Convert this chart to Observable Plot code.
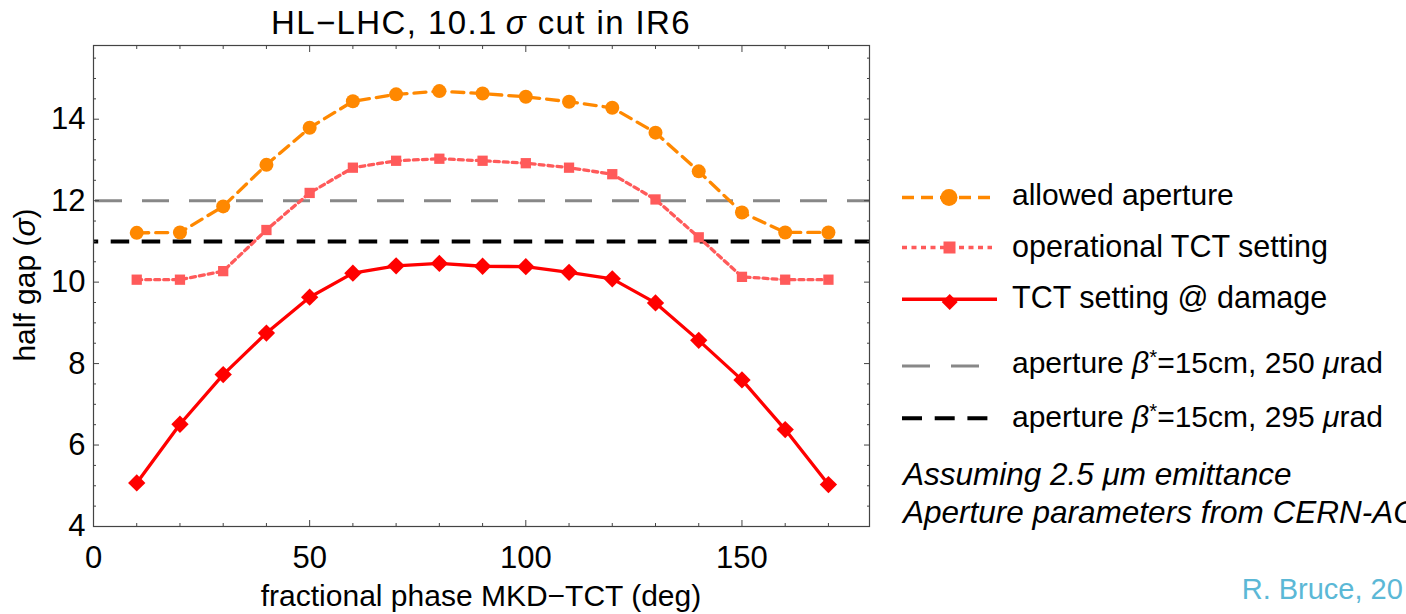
<!DOCTYPE html>
<html><head><meta charset="utf-8">
<script src="https://cdn.jsdelivr.net/npm/d3@7"></script>
<script src="https://cdn.jsdelivr.net/npm/@observablehq/plot@0.6"></script>
<style>
body{margin:0;background:#fff;overflow:hidden}
#wrap{position:relative;width:1406px;height:614px;overflow:hidden;background:#fff}
#wrap svg{position:absolute;left:0;top:0}
</style></head><body><div id="wrap"></div>
<script>
// ---- data ----
const phase = [10,20,30,40,50,60,70,80,90,100,110,120,130,140,150,160,170];
const allowedAperture = [11.21,11.22,11.86,12.88,13.79,14.44,14.61,14.69,14.63,14.55,14.43,14.28,13.67,12.72,11.71,11.22,11.22];
const operationalTCT = [10.06,10.06,10.27,11.28,12.19,12.81,12.98,13.03,12.98,12.92,12.81,12.65,12.03,11.10,10.13,10.06,10.06];
const damageTCT = [5.07,6.51,7.73,8.75,9.63,10.22,10.40,10.46,10.39,10.38,10.24,10.08,9.49,8.57,7.60,6.38,5.03];
const aperture250 = [12];
const aperture295 = [11];
const xTicks = [0,50,100,150];
const xMinorTicks = [10,20,30,40,60,70,80,90,110,120,130,140,160,170];
const yTicks = [4,6,8,10,12,14];
const yMinorTicks = [4.5,5,5.5,6.5,7,7.5,8.5,9,9.5,10.5,11,11.5,12.5,13,13.5,14.5,15,15.5];

const FONT = '"Liberation Sans", Arial, Helvetica, sans-serif';
const ORANGE = "#FF8800", PINK = "#FF5A5A", RED = "#FF0000", FRAME = "#444";

const rows = (vals) => phase.map((p, i) => ({phase: p, v: vals[i]}));
const A = rows(allowedAperture), O = rows(operationalTCT), D = rows(damageTCT);

const plot = Plot.plot({
  width: 1406, height: 614,
  marginLeft: 93, marginRight: 537, marginTop: 45, marginBottom: 88,
  style: {fontFamily: FONT, background: "transparent", color: "#000"},
  x: {domain: [0, 179.5]},
  y: {domain: [4, 15.81]},
  marks: [
    Plot.ruleY(aperture250, {stroke: "#888", strokeWidth: 3, strokeDasharray: "27,20", strokeDashoffset: -2}),
    Plot.ruleY(aperture295, {stroke: "#000", strokeWidth: 4, strokeDasharray: "18.5,12.5", strokeDashoffset: 13.3}),
    Plot.line(D, {x: "phase", y: "v", stroke: RED, strokeWidth: 3.3}),
    Plot.dot(D, {x: "phase", y: "v", symbol: "diamond2", r: 7.8, fill: RED}),
    Plot.line(O, {x: "phase", y: "v", stroke: PINK, strokeWidth: 3.3, strokeDasharray: "5,4"}),
    Plot.dot(O, {x: "phase", y: "v", symbol: "square", r: 5.8, fill: PINK}),
    Plot.line(A, {x: "phase", y: "v", stroke: ORANGE, strokeWidth: 3.3, strokeDasharray: "12,7"}),
    Plot.dot(A, {x: "phase", y: "v", symbol: "circle", r: 7, fill: ORANGE}),
    Plot.frame({stroke: FRAME, strokeWidth: 1.2}),
    // inward ticks
    Plot.axisX(xTicks, {anchor: "bottom", tickSize: 6, dy: -6, fill: "none", stroke: FRAME, label: null}),
    Plot.axisX(xMinorTicks, {anchor: "bottom", tickSize: 3, dy: -3, fill: "none", stroke: FRAME, label: null}),
    Plot.axisX(xTicks, {anchor: "top", tickSize: 6, dy: 6, fill: "none", stroke: FRAME, label: null}),
    Plot.axisX(xMinorTicks, {anchor: "top", tickSize: 3, dy: 3, fill: "none", stroke: FRAME, label: null}),
    Plot.axisY(yTicks, {anchor: "left", tickSize: 6, dx: 6, fill: "none", stroke: FRAME, label: null}),
    Plot.axisY(yMinorTicks, {anchor: "left", tickSize: 3, dx: 3, fill: "none", stroke: FRAME, label: null}),
    Plot.axisY(yTicks, {anchor: "right", tickSize: 6, dx: -6, fill: "none", stroke: FRAME, label: null}),
    Plot.axisY(yMinorTicks, {anchor: "right", tickSize: 3, dx: -3, fill: "none", stroke: FRAME, label: null}),
    // tick labels
    Plot.axisX(xTicks, {anchor: "bottom", tickSize: 0, tickPadding: 19, fontSize: 31, fill: "#000", label: null}),
    Plot.axisY(yTicks, {anchor: "left", tickSize: 0, tickPadding: 8, fontSize: 31, fill: "#000", label: null})
  ]
});
document.getElementById("wrap").appendChild(plot);

// ---- overlay: title, axis labels, legend, notes ----
const ov = d3.select("#wrap").append("svg")
  .attr("width", 1406).attr("height", 614)
  .style("font-family", FONT).style("pointer-events", "none");

function rich(sel, parts) {
  for (const p of parts) {
    const t = sel.append("tspan").text(p.t);
    if (p.i) t.attr("font-style", "italic");
    if (p.sup) t.attr("font-size", "0.68em").attr("dy", "-0.45em");
    if (p.down) t.attr("dy", "0.306em");
  }
  return sel;
}

// title
rich(ov.append("text").attr("x", 481).attr("y", 34).attr("text-anchor", "middle")
      .attr("font-size", 33).attr("letter-spacing", 1.4),
  [{t: "HL\u2212LHC, 10.1\u2009"}, {t: "\u03C3", i: true}, {t: " cut in IR6"}]);
// x label
ov.append("text").attr("x", 481).attr("y", 606).attr("text-anchor", "middle").attr("font-size", 30)
  .text("fractional phase MKD\u2212TCT (deg)");
// y label
rich(ov.append("text").attr("transform", "translate(35,285) rotate(-90)").attr("text-anchor", "middle").attr("font-size", 30),
  [{t: "half gap ("}, {t: "\u03C3", i: true}, {t: ")"}]);

// legend swatches
const lg = ov.append("g");
lg.append("line").attr("x1", 902).attr("x2", 992).attr("y1", 197.5).attr("y2", 197.5)
  .attr("stroke", ORANGE).attr("stroke-width", 3.3).attr("stroke-dasharray", "12,7");
lg.append("circle").attr("cx", 949).attr("cy", 197.5).attr("r", 8.5).attr("fill", ORANGE);
lg.append("line").attr("x1", 902).attr("x2", 992).attr("y1", 247.5).attr("y2", 247.5)
  .attr("stroke", PINK).attr("stroke-width", 3.3).attr("stroke-dasharray", "5,4.5");
lg.append("rect").attr("x", 943.5).attr("y", 241.5).attr("width", 12).attr("height", 12).attr("fill", PINK);
lg.append("line").attr("x1", 902).attr("x2", 997).attr("y1", 299.3).attr("y2", 299.3)
  .attr("stroke", RED).attr("stroke-width", 3.5);
lg.append("path").attr("d", "M949.7,294 L957.7,302 L949.7,310 L941.7,302 Z").attr("fill", RED);
lg.append("line").attr("x1", 902).attr("x2", 980).attr("y1", 366).attr("y2", 366)
  .attr("stroke", "#888").attr("stroke-width", 3).attr("stroke-dasharray", "28,21");
lg.append("line").attr("x1", 902).attr("x2", 988).attr("y1", 418.3).attr("y2", 418.3)
  .attr("stroke", "#000").attr("stroke-width", 4).attr("stroke-dasharray", "20,12.7");

// legend labels
const LX = 1012;
ov.append("text").attr("x", LX).attr("y", 205).attr("font-size", 30).text("allowed aperture");
ov.append("text").attr("x", LX).attr("y", 256.7).attr("font-size", 30.5).text("operational TCT setting");
ov.append("text").attr("x", LX).attr("y", 308).attr("font-size", 30.5).text("TCT setting @ damage");
rich(ov.append("text").attr("x", LX).attr("y", 373.3).attr("font-size", 30),
  [{t: "aperture "}, {t: "\u03B2", i: true}, {t: "*", sup: true}, {t: "=15cm, 250 ", down: true}, {t: "\u03BC", i: true}, {t: "rad"}]);
rich(ov.append("text").attr("x", LX).attr("y", 426.7).attr("font-size", 30),
  [{t: "aperture "}, {t: "\u03B2", i: true}, {t: "*", sup: true}, {t: "=15cm, 295 ", down: true}, {t: "\u03BC", i: true}, {t: "rad"}]);

// notes
ov.append("text").attr("x", 903).attr("y", 485).attr("font-size", 31.5).attr("font-style", "italic")
  .text("Assuming 2.5 \u03BCm emittance");
ov.append("text").attr("x", 903).attr("y", 522.7).attr("font-size", 31.5).attr("font-style", "italic")
  .text("Aperture parameters from CERN-ACC");
// credit
ov.append("text").attr("x", 1241.7).attr("y", 599).attr("font-size", 29).attr("fill", "#5BB8D6")
  .text("R. Bruce, 20");
</script></body></html>
